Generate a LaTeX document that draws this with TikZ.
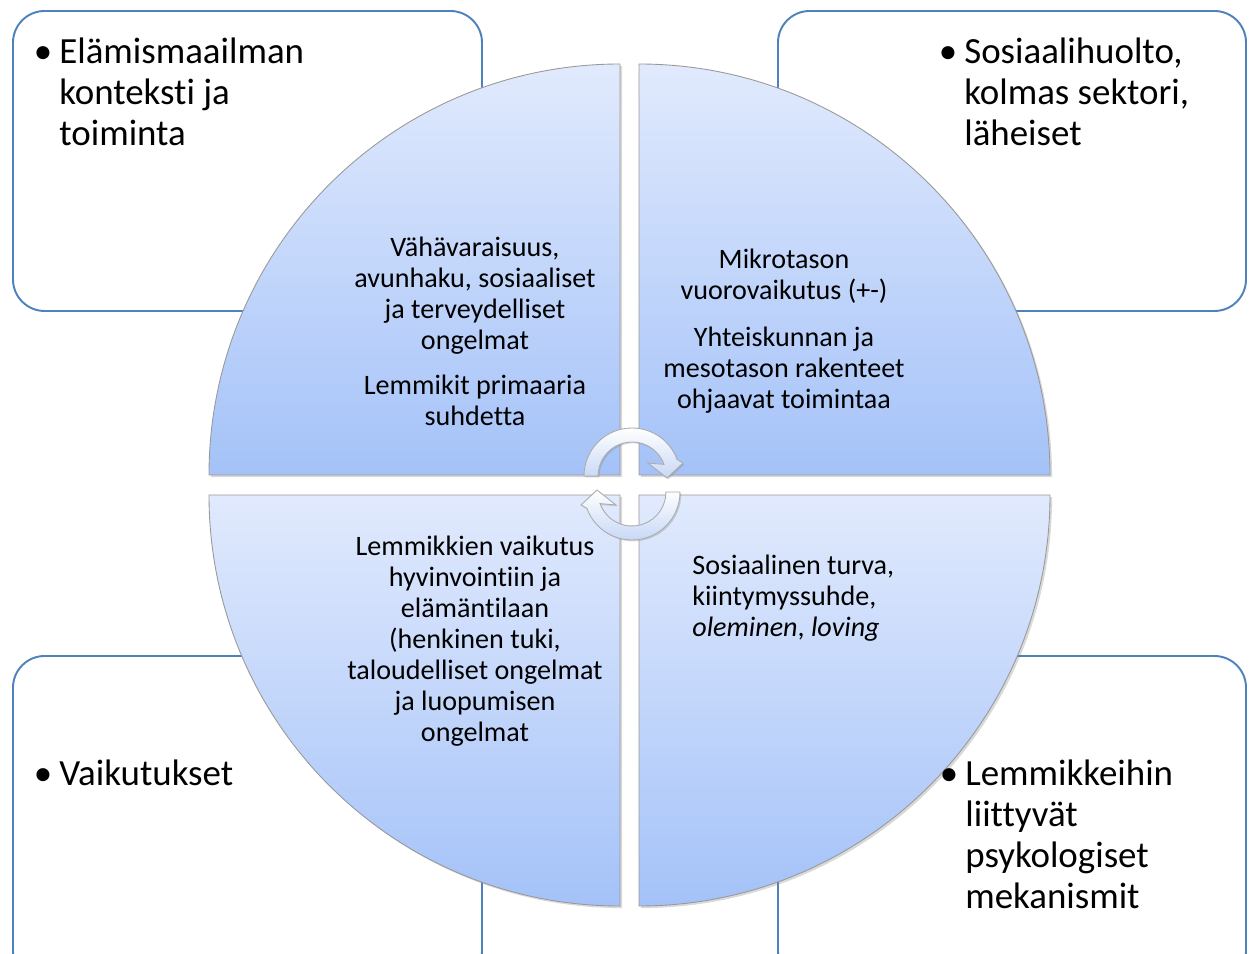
\documentclass[tikz,border=0pt]{standalone}
\usepackage{fontspec}
\setmainfont{Carlito}[Ligatures=NoCommon]
\usepackage{tikz}
\usetikzlibrary{shadows}

\definecolor{boxblue}{RGB}{79,129,189}
\definecolor{quadtop}{RGB}{225,234,253}
\definecolor{quadbot}{RGB}{164,194,248}
\definecolor{arrowblue}{RGB}{200,216,246}

% bullet hangs left of the text block
\newcommand{\bitem}[1]{\llap{\textbullet\hspace{4pt}}\begin{tabular}[t]{@{}l@{}}#1\end{tabular}}

\tikzset{
	cornerbox/.style={draw=boxblue, line width=1.1pt, rounded corners=18pt},
	quad/.style={draw=gray!80, line width=0.5pt, top color=quadtop, bottom color=quadbot,
		drop shadow={shadow xshift=1.2pt, shadow yshift=-1.2pt, opacity=0.3}},
	cornertext/.style={anchor=base west, inner sep=0pt, font=\fontsize{21}{23.3}\selectfont},
	quadtext/.style={inner sep=0pt, font=\fontsize{16}{17.6}\selectfont},
	turnarrow/.style={draw=gray!65, line width=0.5pt, top color=white, bottom color=arrowblue,
		drop shadow={shadow xshift=0.8pt, shadow yshift=-0.8pt, opacity=0.3}}
}

\begin{document}
\begin{tikzpicture}[x=0.02cm, y=0.02cm]
	\useasboundingbox (0,0) rectangle (1250,953);
	
	% corner boxes
	\draw[cornerbox] (13,642) rectangle (482,942);
	\draw[cornerbox] (778,642) rectangle (1246,942);
	\draw[cornerbox] (13,-30) rectangle (482,297);
	\draw[cornerbox] (778,-30) rectangle (1246,297);
	
	% four quarters of the circle
	\path[quad] (620,478) -- (209,478) arc[start angle=180, end angle=90, radius=411] -- cycle;
	\path[quad] (639,478) -- (639,889) arc[start angle=90, end angle=0, radius=411] -- cycle;
	\path[quad] (620,458) -- (620,47) arc[start angle=270, end angle=180, radius=411] -- cycle;
	\path[quad] (639,458) -- (1050,458) arc[start angle=0, end angle=-90, radius=411] -- cycle;
	
	% texts in the quarters
	\node[quadtext, anchor=base] (tlq) at (475,696)
	{\begin{tabular}[t]{@{}c@{}}Vähävaraisuus,\\ avunhaku, sosiaaliset\\ ja terveydelliset\\ ongelmat\\[8pt]
			Lemmikit primaaria\\ suhdetta\end{tabular}};
	\node[quadtext, anchor=base] (trq) at (784,684)
	{\begin{tabular}[t]{@{}c@{}}Mikrotason\\ vuorovaikutus (+-)\\[9pt]
			Yhteiskunnan ja\\ mesotason rakenteet\\ ohjaavat toimintaa\end{tabular}};
	\node[quadtext, anchor=base] (blq) at (475,397)
	{\begin{tabular}[t]{@{}c@{}}Lemmikkien vaikutus\\ hyvinvointiin ja\\ elämäntilaan\\ (henkinen tuki,\\
			taloudelliset ongelmat\\ ja luopumisen\\ ongelmat\end{tabular}};
	\node[quadtext, anchor=base west] (brq) at (692,378)
	{\begin{tabular}[t]{@{}l@{}}Sosiaalinen turva,\\ kiintymyssuhde,\\ \textit{oleminen}, \textit{loving}\end{tabular}};
	
	% texts in the corner boxes
	\node[cornertext] (tlc) at (59,889) {\bitem{Elämismaailman\\ konteksti ja\\ toiminta}};
	\node[cornertext] (trc) at (964,889) {\bitem{Sosiaalihuolto,\\ kolmas sektori,\\ läheiset}};
	\node[cornertext] (blc) at (59,167) {\bitem{Vaikutukset}};
	\node[cornertext] (brc) at (965,167) {\bitem{Lemmikkeihin\\ liittyvät\\ psykologiset\\ mekanismit}};
	
	% circular arrows in the middle
	\path[turnarrow] (584,477) arc[start angle=180, end angle=20, radius=48]
	-- (683,490) -- (667,475) -- (648,490) -- (664,488.6)
	arc[start angle=20, end angle=180, radius=34] -- cycle;
	\begin{scope}[rotate around={180:(632,469)}]
		\path[turnarrow] (584,477) arc[start angle=180, end angle=20, radius=48]
		-- (683,490) -- (667,475) -- (648,490) -- (664,488.6)
		arc[start angle=20, end angle=180, radius=34] -- cycle;
	\end{scope}
\end{tikzpicture}
\end{document}
